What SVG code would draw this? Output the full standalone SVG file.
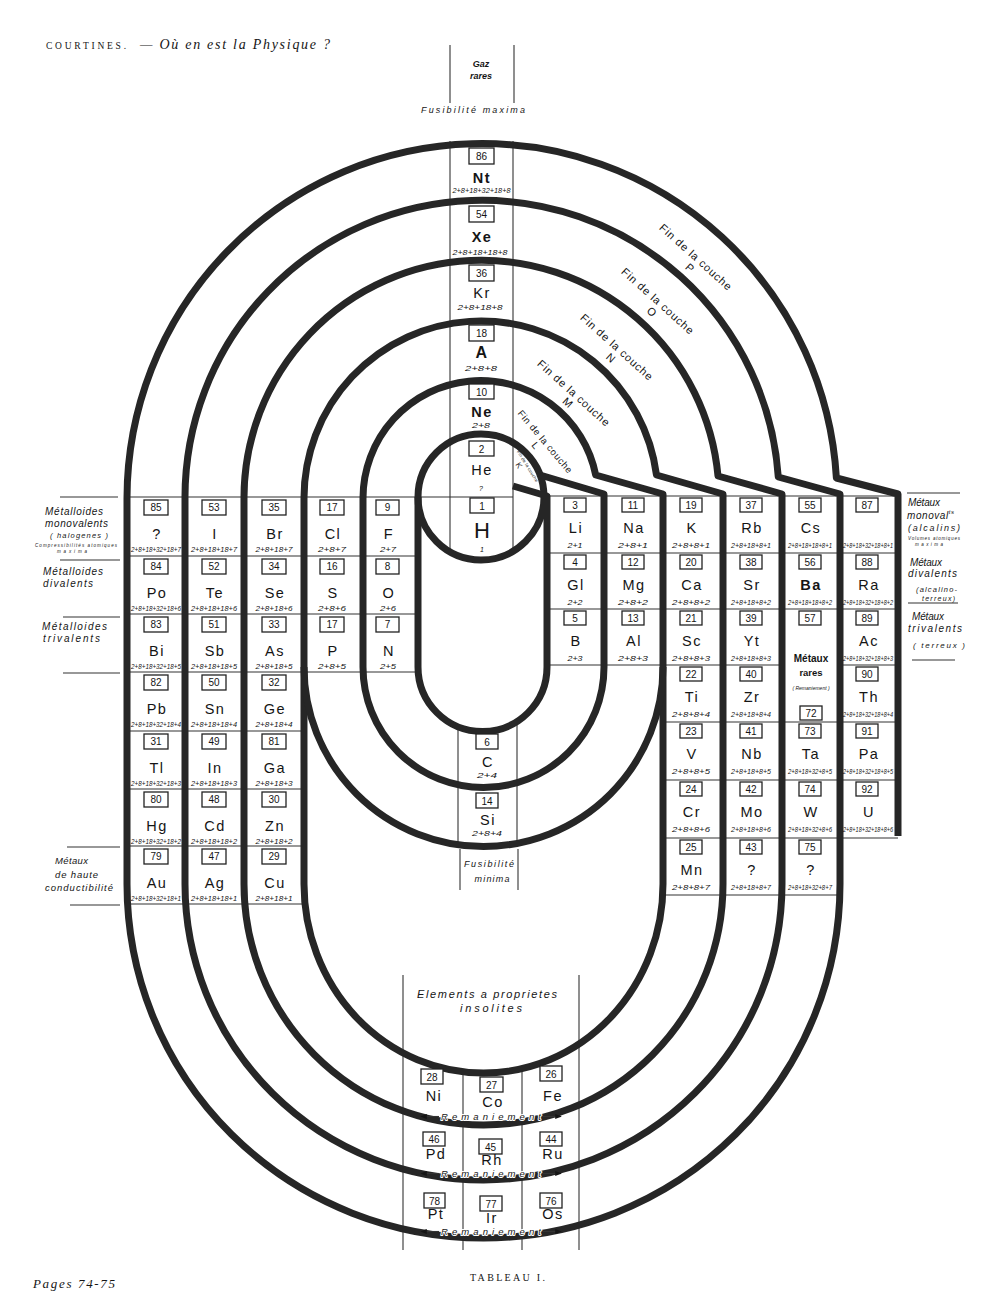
<svg xmlns="http://www.w3.org/2000/svg" width="1000" height="1313" viewBox="0 0 1000 1313">
<defs>
<style>
.ring{fill:none;stroke:#262626;stroke-width:7;stroke-linejoin:round}
.thin{fill:none;stroke:#333;stroke-width:1.1}
.bx{fill:#fff;stroke:#222;stroke-width:1.3}
text{font-family:"Liberation Sans","DejaVu Sans",Arial,sans-serif;fill:#151515}
.n{font-size:10px;text-anchor:middle}
.s{font-size:14.5px;letter-spacing:1.5px;text-anchor:middle}
.b{font-weight:bold}
.c{font-size:7px;font-style:italic;text-anchor:middle}
.lab{font-size:10px;font-style:italic}
.fin{font-size:11px;letter-spacing:0.8px;text-anchor:middle}
.serif{font-family:"Liberation Serif","DejaVu Serif",serif}
.halo{paint-order:stroke;stroke:#fff;stroke-width:2px;stroke-linejoin:round}
.rem{font-size:9.5px;font-style:italic;text-anchor:middle}
</style>
<marker id="arr" viewBox="0 0 8 6" refX="7" refY="3" markerWidth="7" markerHeight="5" orient="auto" markerUnits="userSpaceOnUse"><path d="M0,0 L8,3 L0,6 Z" fill="#151515"/></marker>
</defs>
<rect width="1000" height="1313" fill="#fff"/>

<g id="header">
<text class="serif" x="46" y="49" font-size="9.5" textLength="80">COURTINES.</text>
<text class="serif" x="140" y="49" font-size="14" font-style="italic" textLength="190">— Où en est la Physique ?</text>
</g>

<g id="label-gaz-rares">
<line class="thin" x1="450" y1="45" x2="450" y2="103"/>
<line class="thin" x1="514" y1="45" x2="514" y2="103"/>
<text x="481" y="67" font-size="9" font-style="italic" font-weight="bold" text-anchor="middle">Gaz</text>
<text x="481" y="79" font-size="9" font-style="italic" font-weight="bold" text-anchor="middle">rares</text>
<text x="473" y="113" font-size="9" font-style="italic" text-anchor="middle" textLength="104">Fusibilité maxima</text>
</g>

<g id="cell-lines">
<line class="thin" x1="450" y1="141" x2="450" y2="551"/>
<line class="thin" x1="513" y1="141" x2="513" y2="551"/>
<line class="thin" x1="127" y1="497" x2="513" y2="497"/>
<line class="thin" x1="127" y1="556" x2="418" y2="556"/>
<line class="thin" x1="127" y1="614" x2="418" y2="614"/>
<line class="thin" x1="127" y1="672" x2="418" y2="672"/>
<line class="thin" x1="127" y1="731" x2="304" y2="731"/>
<line class="thin" x1="127" y1="789" x2="304" y2="789"/>
<line class="thin" x1="127" y1="846" x2="304" y2="846"/>
<line class="thin" x1="127" y1="904" x2="304" y2="904"/>
<line class="thin" x1="547" y1="496" x2="898" y2="496"/>
<line class="thin" x1="547" y1="553" x2="898" y2="553"/>
<line class="thin" x1="547" y1="609" x2="898" y2="609"/>
<line class="thin" x1="547" y1="665" x2="782" y2="665"/>
<line class="thin" x1="840" y1="665" x2="898" y2="665"/>
<line class="thin" x1="663" y1="722" x2="898" y2="722"/>
<line class="thin" x1="663" y1="780" x2="898" y2="780"/>
<line class="thin" x1="663" y1="838" x2="898" y2="838"/>
<line class="thin" x1="663" y1="895" x2="840" y2="895"/>
<line class="thin" x1="458" y1="726" x2="458" y2="845"/>
<line class="thin" x1="517" y1="722" x2="517" y2="843"/>
<line class="thin" x1="460" y1="849" x2="460" y2="890"/>
<line class="thin" x1="518" y1="849" x2="518" y2="890"/>
<line class="thin" x1="403" y1="975" x2="403" y2="1250"/>
<line class="thin" x1="579" y1="975" x2="579" y2="1250"/>
<line class="thin" x1="463" y1="1072" x2="463" y2="1250"/>
<line class="thin" x1="522" y1="1069" x2="522" y2="1250"/>
<line class="thin" x1="60" y1="497" x2="118" y2="497"/>
<line class="thin" x1="60" y1="560" x2="120" y2="560"/>
<line class="thin" x1="63" y1="617" x2="120" y2="617"/>
<line class="thin" x1="63" y1="673" x2="120" y2="673"/>
<line class="thin" x1="67" y1="847" x2="120" y2="847"/>
<line class="thin" x1="70" y1="905" x2="120" y2="905"/>
<line class="thin" x1="907" y1="493" x2="960" y2="493"/>
<line class="thin" x1="908" y1="603" x2="958" y2="603"/>
<line class="thin" x1="912" y1="660" x2="955" y2="660"/>
</g>

<g id="shell-boundaries">
<circle class="ring" cx="481" cy="497" r="63"/>
<path class="ring" d="M513,486 L547,496 L547,667 A64.5,64.5 0 0 1 418,667 L418,497"/>
<path class="ring" d="M540,475 L604,494 L604,667 A120.5,120.5 0 0 1 363,667 L363,498 A117.5,117.5 0 0 1 595.7,475 L663,494 L663,884 A179.5,189 0 0 1 304,884 L304,498 A177,177 0 0 1 656.5,475 L723,494 L723,884 A239.5,241 0 0 1 244,884 L244,498 A237.5,237.5 0 0 1 718,476 L782,494 L782,884 A298.5,296 0 0 1 185,884 L185,498 A297,297 0 0 1 778.3,477 L840,494 L840,884 A356.5,354 0 0 1 127,884 L127,498 A355,355 0 0 1 836.4,478 L898,494 L898,836"/>
<path class="ring" d="M663,667 A179.5,179.5 0 0 1 304,667"/>
</g>

<g id="noble-gases">
<g id="el-86"><rect class="bx" x="469" y="148" width="25" height="16"/><text class="n" x="481.5" y="160">86</text><text class="s b" x="482" y="183">Nt</text><text class="c" x="481.5" y="193" textLength="58" lengthAdjust="spacingAndGlyphs">2+8+18+32+18+8</text></g>
<g id="el-54"><rect class="bx" x="469" y="206" width="25" height="16"/><text class="n" x="481.5" y="218">54</text><text class="s b" x="482" y="242">Xe</text><text class="c" x="480" y="255" textLength="55" lengthAdjust="spacingAndGlyphs">2+8+18+18+8</text></g>
<g id="el-36"><rect class="bx" x="469" y="265" width="25" height="16"/><text class="n" x="481.5" y="277">36</text><text class="s" x="482" y="298">Kr</text><text class="c" x="480" y="310" textLength="45" lengthAdjust="spacingAndGlyphs">2+8+18+8</text></g>
<g id="el-18"><rect class="bx" x="469" y="325" width="25" height="16"/><text class="n" x="481.5" y="337">18</text><text class="s b" x="482" y="358" style="font-size:16px">A</text><text class="c" x="481" y="371" textLength="32" lengthAdjust="spacingAndGlyphs">2+8+8</text></g>
<g id="el-10"><rect class="bx" x="469" y="384" width="25" height="15"/><text class="n" x="481.5" y="395.5">10</text><text class="s b" x="482" y="417">Ne</text><text class="c" x="481" y="428" textLength="18" lengthAdjust="spacingAndGlyphs">2+8</text></g>
<g id="el-2"><rect class="bx" x="469" y="441" width="25" height="15"/><text class="n" x="481.5" y="452.5">2</text><text class="s" x="482" y="475">He</text><text class="c" x="481" y="491">?</text></g>
<g id="el-1"><rect class="bx" x="470" y="498" width="24" height="15"/><text class="n" x="482" y="509.5">1</text><text class="s" x="482" y="538" style="font-size:22px;letter-spacing:0">H</text><text class="c" x="482" y="552">1</text></g>
</g>

<g id="column-C-Si">
<g id="el-6"><rect class="bx" x="476" y="734" width="22" height="15"/><text class="n" x="487" y="745.5">6</text><text class="s" x="488" y="767">C</text><text class="c" x="487" y="778" textLength="20" lengthAdjust="spacingAndGlyphs">2+4</text></g>
<g id="el-14"><rect class="bx" x="476" y="793" width="22" height="15"/><text class="n" x="487" y="804.5">14</text><text class="s" x="488" y="825">Si</text><text class="c" x="487" y="836" textLength="30" lengthAdjust="spacingAndGlyphs">2+8+4</text></g>
<g id="label-fusibilite-minima"><text x="489" y="867" font-size="9" font-style="italic" text-anchor="middle" textLength="50">Fusibilité</text><text x="492" y="882" font-size="9" font-style="italic" text-anchor="middle" textLength="35">minima</text></g>
</g>

<g id="left-columns">
<g id="el-85"><rect class="bx" x="144" y="500" width="24" height="15"/><text class="n" x="156" y="511">85</text><text class="s" x="157" y="539">?</text><text class="c" x="156" y="552" textLength="50" lengthAdjust="spacingAndGlyphs">2+8+18+32+18+7</text></g>
<g id="el-84"><rect class="bx" x="144" y="559" width="24" height="15"/><text class="n" x="156" y="570">84</text><text class="s" x="157" y="598">Po</text><text class="c" x="156" y="611" textLength="50" lengthAdjust="spacingAndGlyphs">2+8+18+32+18+6</text></g>
<g id="el-83"><rect class="bx" x="144" y="617" width="24" height="15"/><text class="n" x="156" y="628">83</text><text class="s" x="157" y="656">Bi</text><text class="c" x="156" y="669" textLength="50" lengthAdjust="spacingAndGlyphs">2+8+18+32+18+5</text></g>
<g id="el-82"><rect class="bx" x="144" y="675" width="24" height="15"/><text class="n" x="156" y="686">82</text><text class="s" x="157" y="714">Pb</text><text class="c" x="156" y="727" textLength="50" lengthAdjust="spacingAndGlyphs">2+8+18+32+18+4</text></g>
<g id="el-81-Tl"><rect class="bx" x="144" y="734" width="24" height="15"/><text class="n" x="156" y="745">31</text><text class="s" x="157" y="773">Tl</text><text class="c" x="156" y="786" textLength="50" lengthAdjust="spacingAndGlyphs">2+8+18+32+18+3</text></g>
<g id="el-80"><rect class="bx" x="144" y="792" width="24" height="15"/><text class="n" x="156" y="803">80</text><text class="s" x="157" y="831">Hg</text><text class="c" x="156" y="844" textLength="50" lengthAdjust="spacingAndGlyphs">2+8+18+32+18+2</text></g>
<g id="el-79"><rect class="bx" x="144" y="849" width="24" height="15"/><text class="n" x="156" y="860">79</text><text class="s" x="157" y="888">Au</text><text class="c" x="156" y="901" textLength="50" lengthAdjust="spacingAndGlyphs">2+8+18+32+18+1</text></g>

<g id="el-53"><rect class="bx" x="202" y="500" width="24" height="15"/><text class="n" x="214" y="511">53</text><text class="s" x="215" y="539">I</text><text class="c" x="214" y="552" textLength="46" lengthAdjust="spacingAndGlyphs">2+8+18+18+7</text></g>
<g id="el-52"><rect class="bx" x="202" y="559" width="24" height="15"/><text class="n" x="214" y="570">52</text><text class="s" x="215" y="598">Te</text><text class="c" x="214" y="611" textLength="46" lengthAdjust="spacingAndGlyphs">2+8+18+18+6</text></g>
<g id="el-51"><rect class="bx" x="202" y="617" width="24" height="15"/><text class="n" x="214" y="628">51</text><text class="s" x="215" y="656">Sb</text><text class="c" x="214" y="669" textLength="46" lengthAdjust="spacingAndGlyphs">2+8+18+18+5</text></g>
<g id="el-50"><rect class="bx" x="202" y="675" width="24" height="15"/><text class="n" x="214" y="686">50</text><text class="s" x="215" y="714">Sn</text><text class="c" x="214" y="727" textLength="46" lengthAdjust="spacingAndGlyphs">2+8+18+18+4</text></g>
<g id="el-49"><rect class="bx" x="202" y="734" width="24" height="15"/><text class="n" x="214" y="745">49</text><text class="s" x="215" y="773">In</text><text class="c" x="214" y="786" textLength="46" lengthAdjust="spacingAndGlyphs">2+8+18+18+3</text></g>
<g id="el-48"><rect class="bx" x="202" y="792" width="24" height="15"/><text class="n" x="214" y="803">48</text><text class="s" x="215" y="831">Cd</text><text class="c" x="214" y="844" textLength="46" lengthAdjust="spacingAndGlyphs">2+8+18+18+2</text></g>
<g id="el-47"><rect class="bx" x="202" y="849" width="24" height="15"/><text class="n" x="214" y="860">47</text><text class="s" x="215" y="888">Ag</text><text class="c" x="214" y="901" textLength="46" lengthAdjust="spacingAndGlyphs">2+8+18+18+1</text></g>

<g id="el-35"><rect class="bx" x="262" y="500" width="24" height="15"/><text class="n" x="274" y="511">35</text><text class="s" x="275" y="539">Br</text><text class="c" x="274" y="552" textLength="37" lengthAdjust="spacingAndGlyphs">2+8+18+7</text></g>
<g id="el-34"><rect class="bx" x="262" y="559" width="24" height="15"/><text class="n" x="274" y="570">34</text><text class="s" x="275" y="598">Se</text><text class="c" x="274" y="611" textLength="37" lengthAdjust="spacingAndGlyphs">2+8+18+6</text></g>
<g id="el-33"><rect class="bx" x="262" y="617" width="24" height="15"/><text class="n" x="274" y="628">33</text><text class="s" x="275" y="656">As</text><text class="c" x="274" y="669" textLength="37" lengthAdjust="spacingAndGlyphs">2+8+18+5</text></g>
<g id="el-32"><rect class="bx" x="262" y="675" width="24" height="15"/><text class="n" x="274" y="686">32</text><text class="s" x="275" y="714">Ge</text><text class="c" x="274" y="727" textLength="37" lengthAdjust="spacingAndGlyphs">2+8+18+4</text></g>
<g id="el-31-Ga"><rect class="bx" x="262" y="734" width="24" height="15"/><text class="n" x="274" y="745">81</text><text class="s" x="275" y="773">Ga</text><text class="c" x="274" y="786" textLength="37" lengthAdjust="spacingAndGlyphs">2+8+18+3</text></g>
<g id="el-30"><rect class="bx" x="262" y="792" width="24" height="15"/><text class="n" x="274" y="803">30</text><text class="s" x="275" y="831">Zn</text><text class="c" x="274" y="844" textLength="37" lengthAdjust="spacingAndGlyphs">2+8+18+2</text></g>
<g id="el-29"><rect class="bx" x="262" y="849" width="24" height="15"/><text class="n" x="274" y="860">29</text><text class="s" x="275" y="888">Cu</text><text class="c" x="274" y="901" textLength="37" lengthAdjust="spacingAndGlyphs">2+8+18+1</text></g>

<g id="el-17"><rect class="bx" x="320" y="500" width="24" height="15"/><text class="n" x="332" y="511">17</text><text class="s" x="333" y="539">Cl</text><text class="c" x="332" y="552" textLength="28" lengthAdjust="spacingAndGlyphs">2+8+7</text></g>
<g id="el-16"><rect class="bx" x="320" y="559" width="24" height="15"/><text class="n" x="332" y="570">16</text><text class="s" x="333" y="598">S</text><text class="c" x="332" y="611" textLength="28" lengthAdjust="spacingAndGlyphs">2+8+6</text></g>
<g id="el-15"><rect class="bx" x="320" y="617" width="24" height="15"/><text class="n" x="332" y="628">17</text><text class="s" x="333" y="656">P</text><text class="c" x="332" y="669" textLength="28" lengthAdjust="spacingAndGlyphs">2+8+5</text></g>

<g id="el-9"><rect class="bx" x="376" y="500" width="23" height="15"/><text class="n" x="387.5" y="511">9</text><text class="s" x="389" y="539">F</text><text class="c" x="388" y="552" textLength="16" lengthAdjust="spacingAndGlyphs">2+7</text></g>
<g id="el-8"><rect class="bx" x="376" y="559" width="23" height="15"/><text class="n" x="387.5" y="570">8</text><text class="s" x="389" y="598">O</text><text class="c" x="388" y="611" textLength="16" lengthAdjust="spacingAndGlyphs">2+6</text></g>
<g id="el-7"><rect class="bx" x="376" y="617" width="23" height="15"/><text class="n" x="387.5" y="628">7</text><text class="s" x="389" y="656">N</text><text class="c" x="388" y="669" textLength="16" lengthAdjust="spacingAndGlyphs">2+5</text></g>
</g>

<g id="right-columns">
<g id="el-3"><rect class="bx" x="564" y="498" width="22" height="14"/><text class="n" x="575" y="508.5">3</text><text class="s" x="576" y="533">Li</text><text class="c" x="575" y="547.5" textLength="15" lengthAdjust="spacingAndGlyphs">2+1</text></g>
<g id="el-4"><rect class="bx" x="564" y="555" width="22" height="14"/><text class="n" x="575" y="565.5">4</text><text class="s" x="576" y="590">Gl</text><text class="c" x="575" y="604.5" textLength="15" lengthAdjust="spacingAndGlyphs">2+2</text></g>
<g id="el-5"><rect class="bx" x="564" y="611" width="22" height="14"/><text class="n" x="575" y="621.5">5</text><text class="s" x="576" y="646">B</text><text class="c" x="575" y="660.5" textLength="15" lengthAdjust="spacingAndGlyphs">2+3</text></g>

<g id="el-11"><rect class="bx" x="622" y="498" width="22" height="14"/><text class="n" x="633" y="508.5">11</text><text class="s" x="634" y="533">Na</text><text class="c" x="633" y="547.5" textLength="30" lengthAdjust="spacingAndGlyphs">2+8+1</text></g>
<g id="el-12"><rect class="bx" x="622" y="555" width="22" height="14"/><text class="n" x="633" y="565.5">12</text><text class="s" x="634" y="590">Mg</text><text class="c" x="633" y="604.5" textLength="30" lengthAdjust="spacingAndGlyphs">2+8+2</text></g>
<g id="el-13"><rect class="bx" x="622" y="611" width="22" height="14"/><text class="n" x="633" y="621.5">13</text><text class="s" x="634" y="646">Al</text><text class="c" x="633" y="660.5" textLength="30" lengthAdjust="spacingAndGlyphs">2+8+3</text></g>

<g id="el-19"><rect class="bx" x="680" y="498" width="22" height="14"/><text class="n" x="691" y="508.5">19</text><text class="s" x="692" y="533">K</text><text class="c" x="691" y="547.5" textLength="38" lengthAdjust="spacingAndGlyphs">2+8+8+1</text></g>
<g id="el-20"><rect class="bx" x="680" y="555" width="22" height="14"/><text class="n" x="691" y="565.5">20</text><text class="s" x="692" y="590">Ca</text><text class="c" x="691" y="604.5" textLength="38" lengthAdjust="spacingAndGlyphs">2+8+8+2</text></g>
<g id="el-21"><rect class="bx" x="680" y="611" width="22" height="14"/><text class="n" x="691" y="621.5">21</text><text class="s" x="692" y="646">Sc</text><text class="c" x="691" y="660.5" textLength="38" lengthAdjust="spacingAndGlyphs">2+8+8+3</text></g>
<g id="el-22"><rect class="bx" x="680" y="667" width="22" height="14"/><text class="n" x="691" y="677.5">22</text><text class="s" x="692" y="702">Ti</text><text class="c" x="691" y="716.5" textLength="38" lengthAdjust="spacingAndGlyphs">2+8+8+4</text></g>
<g id="el-23"><rect class="bx" x="680" y="724" width="22" height="14"/><text class="n" x="691" y="734.5">23</text><text class="s" x="692" y="759">V</text><text class="c" x="691" y="773.5" textLength="38" lengthAdjust="spacingAndGlyphs">2+8+8+5</text></g>
<g id="el-24"><rect class="bx" x="680" y="782" width="22" height="14"/><text class="n" x="691" y="792.5">24</text><text class="s" x="692" y="817">Cr</text><text class="c" x="691" y="831.5" textLength="38" lengthAdjust="spacingAndGlyphs">2+8+8+6</text></g>
<g id="el-25"><rect class="bx" x="680" y="840" width="22" height="14"/><text class="n" x="691" y="850.5">25</text><text class="s" x="692" y="875">Mn</text><text class="c" x="691" y="889.5" textLength="38" lengthAdjust="spacingAndGlyphs">2+8+8+7</text></g>

<g id="el-37"><rect class="bx" x="740" y="498" width="22" height="14"/><text class="n" x="751" y="508.5">37</text><text class="s" x="752" y="533">Rb</text><text class="c" x="751" y="547.5" textLength="40" lengthAdjust="spacingAndGlyphs">2+8+18+8+1</text></g>
<g id="el-38"><rect class="bx" x="740" y="555" width="22" height="14"/><text class="n" x="751" y="565.5">38</text><text class="s" x="752" y="590">Sr</text><text class="c" x="751" y="604.5" textLength="40" lengthAdjust="spacingAndGlyphs">2+8+18+8+2</text></g>
<g id="el-39"><rect class="bx" x="740" y="611" width="22" height="14"/><text class="n" x="751" y="621.5">39</text><text class="s" x="752" y="646">Yt</text><text class="c" x="751" y="660.5" textLength="40" lengthAdjust="spacingAndGlyphs">2+8+18+8+3</text></g>
<g id="el-40"><rect class="bx" x="740" y="667" width="22" height="14"/><text class="n" x="751" y="677.5">40</text><text class="s" x="752" y="702">Zr</text><text class="c" x="751" y="716.5" textLength="40" lengthAdjust="spacingAndGlyphs">2+8+18+8+4</text></g>
<g id="el-41"><rect class="bx" x="740" y="724" width="22" height="14"/><text class="n" x="751" y="734.5">41</text><text class="s" x="752" y="759">Nb</text><text class="c" x="751" y="773.5" textLength="40" lengthAdjust="spacingAndGlyphs">2+8+18+8+5</text></g>
<g id="el-42"><rect class="bx" x="740" y="782" width="22" height="14"/><text class="n" x="751" y="792.5">42</text><text class="s" x="752" y="817">Mo</text><text class="c" x="751" y="831.5" textLength="40" lengthAdjust="spacingAndGlyphs">2+8+18+8+6</text></g>
<g id="el-43"><rect class="bx" x="740" y="840" width="22" height="14"/><text class="n" x="751" y="850.5">43</text><text class="s" x="752" y="875">?</text><text class="c" x="751" y="889.5" textLength="40" lengthAdjust="spacingAndGlyphs">2+8+18+8+7</text></g>

<g id="el-55"><rect class="bx" x="799" y="498" width="22" height="14"/><text class="n" x="810" y="508.5">55</text><text class="s" x="811" y="533">Cs</text><text class="c" x="810" y="547.5" textLength="44" lengthAdjust="spacingAndGlyphs">2+8+18+18+8+1</text></g>
<g id="el-56"><rect class="bx" x="799" y="555" width="22" height="14"/><text class="n" x="810" y="565.5">56</text><text class="s b" x="811" y="590">Ba</text><text class="c" x="810" y="604.5" textLength="44" lengthAdjust="spacingAndGlyphs">2+8+18+18+8+2</text></g>
<g id="el-57-72"><rect class="bx" x="799" y="611" width="22" height="14"/><text class="n" x="810" y="621.5">57</text><text x="811" y="662" font-size="10" font-weight="bold" text-anchor="middle">Métaux</text><text x="811" y="676" font-size="9.5" font-weight="bold" text-anchor="middle">rares</text><text x="811" y="690" font-size="5" font-style="italic" text-anchor="middle">( Remaniement )</text><rect class="bx" x="800" y="706" width="22" height="14"/><text class="n" x="811" y="716.5">72</text></g>
<g id="el-73"><rect class="bx" x="799" y="724" width="22" height="14"/><text class="n" x="810" y="734.5">73</text><text class="s" x="811" y="759">Ta</text><text class="c" x="810" y="773.5" textLength="44" lengthAdjust="spacingAndGlyphs">2+8+18+32+8+5</text></g>
<g id="el-74"><rect class="bx" x="799" y="782" width="22" height="14"/><text class="n" x="810" y="792.5">74</text><text class="s" x="811" y="817">W</text><text class="c" x="810" y="831.5" textLength="44" lengthAdjust="spacingAndGlyphs">2+8+18+32+8+6</text></g>
<g id="el-75"><rect class="bx" x="799" y="840" width="22" height="14"/><text class="n" x="810" y="850.5">75</text><text class="s" x="811" y="875">?</text><text class="c" x="810" y="889.5" textLength="44" lengthAdjust="spacingAndGlyphs">2+8+18+32+8+7</text></g>

<g id="el-87"><rect class="bx" x="856" y="498" width="22" height="14"/><text class="n" x="867" y="508.5">87</text><text class="c" x="868" y="547.5" textLength="50" lengthAdjust="spacingAndGlyphs">2+8+18+32+18+8+1</text></g>
<g id="el-88"><rect class="bx" x="856" y="555" width="22" height="14"/><text class="n" x="867" y="565.5">88</text><text class="s" x="869" y="590">Ra</text><text class="c" x="868" y="604.5" textLength="50" lengthAdjust="spacingAndGlyphs">2+8+18+32+18+8+2</text></g>
<g id="el-89"><rect class="bx" x="856" y="611" width="22" height="14"/><text class="n" x="867" y="621.5">89</text><text class="s" x="869" y="646">Ac</text><text class="c" x="868" y="660.5" textLength="50" lengthAdjust="spacingAndGlyphs">2+8+18+32+18+8+3</text></g>
<g id="el-90"><rect class="bx" x="856" y="667" width="22" height="14"/><text class="n" x="867" y="677.5">90</text><text class="s" x="869" y="702">Th</text><text class="c" x="868" y="716.5" textLength="50" lengthAdjust="spacingAndGlyphs">2+8+18+32+18+8+4</text></g>
<g id="el-91"><rect class="bx" x="856" y="724" width="22" height="14"/><text class="n" x="867" y="734.5">91</text><text class="s" x="869" y="759">Pa</text><text class="c" x="868" y="773.5" textLength="50" lengthAdjust="spacingAndGlyphs">2+8+18+32+18+8+5</text></g>
<g id="el-92"><rect class="bx" x="856" y="782" width="22" height="14"/><text class="n" x="867" y="792.5">92</text><text class="s" x="869" y="817">U</text><text class="c" x="868" y="831.5" textLength="50" lengthAdjust="spacingAndGlyphs">2+8+18+32+18+8+6</text></g>
</g>

<g id="bottom-elements">
<g id="label-insolites"><text x="487" y="998" font-size="11" font-style="italic" text-anchor="middle" textLength="140">Elements a proprietes</text><text x="491" y="1012" font-size="11" font-style="italic" text-anchor="middle" textLength="62">insolites</text></g>
<g id="el-28"><rect class="bx" x="421" y="1069" width="22" height="15"/><text class="n" x="432" y="1080.5">28</text><text class="s" x="434" y="1101">Ni</text></g>
<g id="el-27"><rect class="bx" x="480" y="1077" width="23" height="15"/><text class="n" x="491.5" y="1088.5">27</text><text class="s" x="493" y="1107">Co</text></g>
<g id="el-26"><rect class="bx" x="540" y="1066" width="22" height="15"/><text class="n" x="551" y="1077.5">26</text><text class="s" x="553" y="1101">Fe</text></g>
<g id="el-46"><rect class="bx" x="423" y="1132" width="22" height="14"/><text class="n" x="434" y="1143">46</text><text class="s" x="436" y="1159">Pd</text></g>
<g id="el-45"><rect class="bx" x="479" y="1139" width="23" height="15"/><text class="n" x="490.5" y="1150.5">45</text><text class="s" x="492" y="1165">Rh</text></g>
<g id="el-44"><rect class="bx" x="540" y="1132" width="22" height="14"/><text class="n" x="551" y="1143">44</text><text class="s" x="553" y="1159">Ru</text></g>
<g id="el-78"><rect class="bx" x="424" y="1193" width="21" height="15"/><text class="n" x="434.5" y="1204.5">78</text><text class="s" x="436" y="1219">Pt</text></g>
<g id="el-77"><rect class="bx" x="480" y="1196" width="22" height="15"/><text class="n" x="491" y="1207.5">77</text><text class="s" x="492" y="1223">Ir</text></g>
<g id="el-76"><rect class="bx" x="540" y="1193" width="22" height="15"/><text class="n" x="551" y="1204.5">76</text><text class="s" x="553" y="1219">Os</text></g>
<text class="rem halo" x="491" y="1120" textLength="100">Remaniement</text>
<text class="rem halo" x="491" y="1177" textLength="100">Remaniement</text>
<text class="rem halo" x="491" y="1235" textLength="100">Remaniement</text>
</g>

<g id="connectors">
<line class="thin" x1="439" y1="1116.5" x2="421" y2="1116.5" marker-end="url(#arr)"/>
<line class="thin" x1="543" y1="1116.5" x2="561" y2="1116.5" marker-end="url(#arr)"/>
<line class="thin" x1="439" y1="1173.5" x2="421" y2="1173.5" marker-end="url(#arr)"/>
<line class="thin" x1="543" y1="1173.5" x2="561" y2="1173.5" marker-end="url(#arr)"/>
<line class="thin" x1="439" y1="1231.5" x2="421" y2="1231.5" marker-end="url(#arr)"/>
<line class="thin" x1="543" y1="1231.5" x2="561" y2="1231.5" marker-end="url(#arr)"/>
</g>

<g id="shell-labels">
<g id="label-P" transform="translate(696,257) rotate(42)"><text class="fin" x="0" y="4">Fin de la couche</text><text class="fin" x="3" y="16">P</text></g>
<g id="label-O" transform="translate(658,301) rotate(42)"><text class="fin" x="0" y="4">Fin de la couche</text><text class="fin" x="3" y="16">O</text></g>
<g id="label-N" transform="translate(617,347) rotate(42)"><text class="fin" x="0" y="4">Fin de la couche</text><text class="fin" x="3" y="16">N</text></g>
<g id="label-M" transform="translate(574,393) rotate(42)"><text class="fin" x="0" y="4">Fin de la couche</text><text class="fin" x="2" y="15">M</text></g>
<g id="label-L" transform="translate(545,442) rotate(50)"><text class="fin" x="0" y="3" style="font-size:9.5px;letter-spacing:0.6px">Fin de la couche</text><text class="fin" x="-3" y="13" style="font-size:10px">L</text></g>
<g id="label-K" transform="translate(528,466) rotate(58)"><text class="fin" x="0" y="2" style="font-size:4.5px;letter-spacing:0.2px">Fin de la couche</text><text class="fin" x="-5" y="10" style="font-size:8px">K</text></g>
</g>

<g id="left-labels">
<text class="lab" x="45" y="515" textLength="58">Métalloides</text>
<text class="lab" x="45" y="527" textLength="63">monovalents</text>
<text class="lab" x="50" y="538" style="font-size:7.5px" textLength="58">( halogenes )</text>
<text class="lab" x="35" y="547" style="font-size:4.5px" textLength="82">Compressibilités atomiques</text>
<text class="lab" x="57" y="553" style="font-size:4.5px" textLength="30">maxima</text>
<text class="lab" x="43" y="575" textLength="60">Métalloides</text>
<text class="lab" x="43" y="587" textLength="50">divalents</text>
<text class="lab" x="42" y="630" textLength="65">Métalloides</text>
<text class="lab" x="43" y="642" textLength="57">trivalents</text>
<text class="lab" x="55" y="864" style="font-size:9.5px" textLength="33">Métaux</text>
<text class="lab" x="55" y="878" style="font-size:9.5px" textLength="43">de haute</text>
<text class="lab" x="45" y="891" style="font-size:9.5px" textLength="68">conductibilité</text>
</g>

<g id="right-labels">
<text class="lab" x="908" y="506" textLength="32">Métaux</text>
<text class="lab" x="907" y="519" textLength="47">monoval<tspan style="font-size:6px" dy="-5">ts</tspan></text>
<text class="lab" x="908" y="531" style="font-size:9px" textLength="52">(alcalins)</text>
<text class="lab" x="908" y="540" style="font-size:4.5px" textLength="52">Volumes atomiques</text>
<text class="lab" x="915" y="546" style="font-size:4.5px" textLength="28">maxima</text>
<text class="lab" x="910" y="566" textLength="32">Métaux</text>
<text class="lab" x="908" y="577" textLength="49">divalents</text>
<text class="lab" x="916" y="592" style="font-size:7.5px" textLength="41">(alcalino-</text>
<text class="lab" x="922" y="601" style="font-size:7px" textLength="33">terreux)</text>
<text class="lab" x="912" y="620" textLength="32">Métaux</text>
<text class="lab" x="908" y="632" textLength="54">trivalents</text>
<text class="lab" x="913" y="648" style="font-size:8px" textLength="52">( terreux )</text>
</g>

<g id="footer">
<text class="serif" x="33" y="1288" font-size="13" font-style="italic" textLength="82">Pages 74-75</text>
<text class="serif" x="470" y="1281" font-size="10" textLength="75">TABLEAU I.</text>
</g>
</svg>
